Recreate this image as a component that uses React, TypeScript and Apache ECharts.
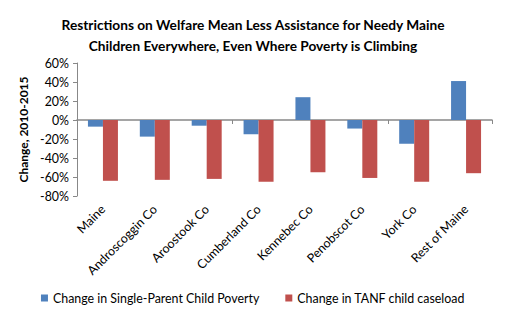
import React, { useEffect, useRef } from "react";
import * as echarts from "echarts";

const categories = ["Maine", "Androscoggin Co", "Aroostook Co", "Cumberland Co", "Kennebec Co", "Penobscot Co", "York Co", "Rest of Maine"];
const povertyChange = [-7, -17.5, -6, -15, 24, -9, -25, 41];
const tanfChange = [-64, -63, -62, -65, -55, -61, -65, -56];
const seriesNames = ["Change in Single-Parent Child Poverty", "Change in TANF child caseload"];
const titleText = "Restrictions on Welfare Mean Less Assistance for Needy Maine\nChildren Everywhere, Even Where Poverty is Climbing";
const yAxisName = "Change, 2010-2015";

const FONT = "Lato, 'Open Sans', sans-serif";

export default function App() {
  const ref = useRef<HTMLDivElement>(null);
  useEffect(() => {
    const chart = echarts.init(ref.current!, null, { renderer: "svg" });
    chart.setOption({
      animation: false,
      textStyle: { fontFamily: FONT },
      title: {
        text: titleText,
        left: "center",
        top: 9,
        textStyle: { fontSize: 13.7, fontWeight: "bold", color: "#000", lineHeight: 21, fontFamily: FONT },
      },
      grid: { left: 77, right: 14, top: 63, bottom: 125 },
      legend: {
        bottom: 12,
        left: "center",
        itemWidth: 7,
        itemHeight: 7,
        itemGap: 26,
        icon: "rect",
        textStyle: { fontSize: 12.4, color: "#000", fontFamily: FONT },
        data: seriesNames,
      },
      xAxis: [
        {
          type: "category",
          data: categories,
          axisLine: { onZero: true, lineStyle: { color: "#888", width: 1.5 } },
          axisTick: { show: true, length: 4, lineStyle: { color: "#888" } },
          axisLabel: { show: false },
        },
        {
          type: "category",
          data: categories,
          position: "bottom",
          axisLine: { show: false, onZero: false },
          axisTick: { show: false },
          axisLabel: { rotate: 45, margin: 11, fontSize: 12.4, color: "#000", fontFamily: FONT, interval: 0 },
        },
      ],
      yAxis: {
        type: "value",
        min: -80,
        max: 60,
        interval: 20,
        name: yAxisName,
        nameLocation: "middle",
        nameGap: 47,
        nameRotate: 90,
        nameTextStyle: { fontSize: 12, fontWeight: "bold", color: "#000", fontFamily: FONT },
        axisLine: { show: true, lineStyle: { color: "#888" } },
        axisTick: { show: true, length: 4, lineStyle: { color: "#888" } },
        splitLine: { show: false },
        axisLabel: { formatter: "{value}%", fontSize: 12.4, color: "#000", margin: 8, fontFamily: FONT },
      },
      series: [
        {
          name: seriesNames[0],
          type: "bar",
          xAxisIndex: 0,
          data: povertyChange,
          barWidth: 15,
          barGap: "0%",
          itemStyle: { color: "#4F81BD" },
        },
        {
          name: seriesNames[1],
          type: "bar",
          xAxisIndex: 0,
          data: tanfChange,
          barWidth: 15,
          barGap: "0%",
          itemStyle: { color: "#C0504D" },
        },
      ],
    });
    return () => chart.dispose();
  }, []);
  return <div ref={ref} style={{ width: 506, height: 321, position: "absolute", left: 0, top: 0 }} />;
}
